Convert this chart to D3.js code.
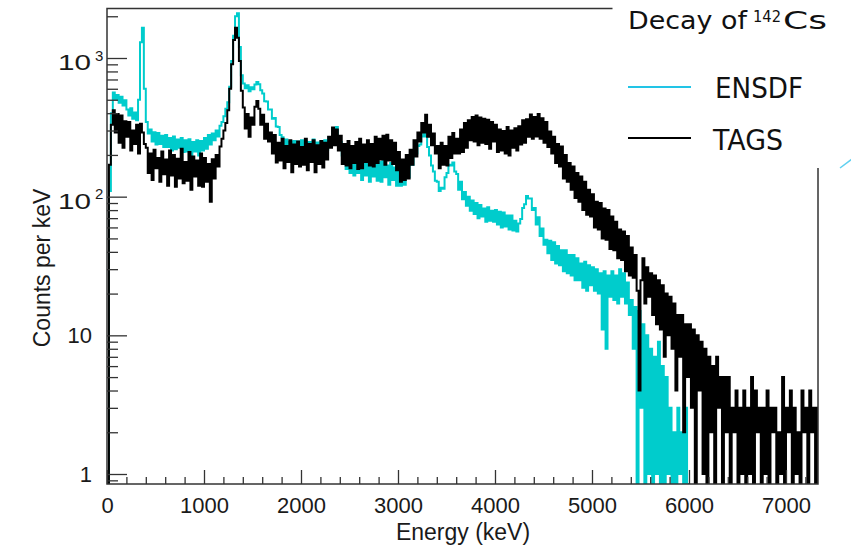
<!DOCTYPE html>
<html>
<head>
<meta charset="utf-8">
<title>Decay of 142Cs</title>
<style>
	body { margin: 0; background: #fff; }
	svg text { font-family: "Liberation Sans", Arial, Helvetica, sans-serif; fill: #1a1a1a; }
	.axis path.domain { display: none; }
	.axis line { stroke: #333; stroke-width: 1.3; }
	.legend text { font-family: "DejaVu Sans", Verdana, sans-serif; fill: #111; }
</style>
</head>
<body>
<div class="spectrum"></div>
<script src="https://d3js.org/d3.v7.min.js"></script>
<script>
// counts per keV, 20 keV bins starting at 0 keV
var binWidth = 20;

var ensdf = [
	0, 110, 400, 565, 505, 540, 475, 525, 455, 495,
	425, 385, 435, 365, 405, 355, 500, 1300, 1650, 600,
	345, 285, 305, 250, 292, 238, 288, 240, 275, 228,
	278, 228, 265, 215, 272, 220, 258, 225, 265, 210,
	255, 212, 260, 200, 248, 212, 255, 198, 252, 215,
	265, 222, 278, 238, 285, 255, 300, 272, 325, 345,
	380, 430, 480, 620, 950, 1450, 2000, 2100, 1200, 750,
	655, 605, 635, 575, 615, 595, 645, 670, 648, 585,
	555, 488, 485, 425, 425, 365, 370, 320, 318, 278,
	268, 212, 258, 208, 248, 198, 252, 210, 250, 200,
	255, 202, 250, 196, 248, 206, 258, 195, 246, 208,
	250, 202, 255, 218, 268, 258, 305, 262, 318, 242,
	248, 198, 212, 158, 198, 148, 188, 142, 178, 148,
	182, 132, 188, 142, 172, 128, 182, 140, 185, 130,
	178, 128, 182, 138, 168, 122, 175, 132, 162, 120,
	152, 120, 150, 122, 148, 138, 172, 170, 202, 205,
	232, 238, 272, 285, 272, 228, 198, 168, 152, 130,
	128, 110, 116, 114, 138, 148, 170, 168, 176, 152,
	146, 112, 128, 96, 108, 86, 100, 79, 94, 75,
	90, 70, 87, 72, 82, 66, 84, 67, 79, 66,
	80, 63, 78, 60, 77, 61, 73, 58, 73, 57,
	67, 56, 64, 69, 83, 88, 101, 97, 97, 80,
	83, 63, 71, 52, 59, 45, 49, 39, 48, 35,
	47, 33, 44, 32, 41, 29, 41, 28, 38, 27,
	38, 25, 36, 25, 33, 22, 34, 21, 32, 23,
	31, 21, 30, 20, 28, 11, 29, 8, 27, 19,
	29, 18, 27, 17, 30, 19, 28, 17, 24, 14,
	18, 8, 16, 0, 15, 3, 12, 0, 10, 1,
	8, 0, 7, 1, 9, 0, 6, 0, 5, 1,
	3, 0, 2, 0, 3, 1, 2, 0, 3, 0
];

var tags = [
	0, 170, 330, 420, 290, 395, 245, 385, 225, 350,
	270, 345, 215, 300, 240, 330, 205, 335, 290, 240,
	225, 148, 205, 132, 218, 160, 190, 128, 212, 145,
	185, 120, 215, 142, 200, 118, 188, 135, 222, 125,
	178, 130, 210, 112, 195, 140, 182, 120, 205, 118,
	190, 128, 172, 92, 186, 135, 200, 165, 230, 262,
	300, 340, 420, 600, 900, 1350, 1650, 1400, 950, 580,
	440, 310, 395, 270, 372, 330, 445, 490, 430, 330,
	390, 262, 335, 250, 290, 205, 278, 176, 245, 182,
	262, 160, 232, 178, 255, 150, 238, 172, 250, 165,
	228, 170, 262, 155, 240, 178, 255, 150, 235, 172,
	252, 162, 245, 185, 270, 225, 315, 235, 305, 215,
	275, 172, 240, 168, 252, 160, 232, 175, 248, 158,
	262, 160, 238, 178, 255, 168, 240, 165, 270, 175,
	262, 185, 275, 170, 280, 182, 255, 172, 245, 155,
	210, 128, 185, 132, 200, 135, 218, 170, 255, 195,
	290, 250, 340, 290, 390, 270, 330, 235, 285, 205,
	232, 160, 245, 170, 232, 168, 270, 190, 288, 205,
	262, 205, 305, 210, 340, 225, 355, 255, 375, 250,
	385, 235, 372, 245, 365, 240, 358, 222, 345, 250,
	330, 210, 305, 215, 298, 205, 318, 198, 300, 225,
	312, 215, 322, 238, 355, 245, 362, 270, 392, 262,
	375, 272, 395, 262, 368, 245, 345, 228, 295, 205,
	270, 175, 240, 165, 230, 135, 200, 128, 175, 112,
	165, 98, 148, 92, 140, 80, 128, 74, 112, 72,
	104, 60, 92, 58, 90, 50, 82, 49, 80, 42,
	72, 41, 66, 36, 58, 35, 56, 29, 52, 27,
	43, 26, 38, 21, 4, 25, 36, 17, 31, 19,
	28, 14, 27, 12, 25, 11, 23, 7, 20, 10,
	19, 8, 17, 4, 14, 7, 14, 2, 12, 5,
	12, 3, 11, 0, 10, 4, 9, 1, 8, 0,
	7, 2, 6, 0, 7, 3, 5, 0, 5, 2,
	5, 0, 3, 2, 4, 0, 3, 1, 4, 0,
	3, 1, 5, 0, 4, 2, 3, 0, 3, 1,
	4, 0, 3, 2, 3, 0, 2, 1, 5, 0,
	3, 2, 4, 0, 3, 1, 2, 0, 4, 2,
	3, 0, 4, 2, 3, 0, 3
];

var xMajor = [0, 1000, 2000, 3000, 4000, 5000, 6000, 7000];
var xMinor = [200, 400, 600, 800, 1200, 1400, 1600, 1800, 2200, 2400, 2600, 2800,
	3200, 3400, 3600, 3800, 4200, 4400, 4600, 4800, 5200, 5400, 5600, 5800,
	6200, 6400, 6600, 6800, 7200];
var yMajor = [1, 10, 100, 1000];
var yBase = ["1", "10", "10", "10"];
var yExp = ["", "", "2", "3"];
var yMinor = [0.9, 2, 3, 4, 5, 6, 7, 8, 9, 20, 30, 40, 50, 60, 70, 80, 90,
	200, 300, 400, 500, 600, 700, 800, 900, 2000];

var w = 851, h = 552;
var pLeft = 107, pRight = 818, pTop = 8.5, pBottom = 484;

var svg = d3.select("div.spectrum").append("svg")
	.attr("width", w)
	.attr("height", h);

var x = d3.scaleLinear().domain([0, 7330]).range([pLeft, pRight]);
var y = d3.scaleLog().domain([0.847, 2275]).range([pBottom, pTop]).clamp(true);

svg.append("clipPath").attr("id", "plot")
	.append("rect")
	.attr("x", pLeft).attr("y", pTop)
	.attr("width", pRight - pLeft).attr("height", pBottom - pTop);

function histPath(values){
	var pts = [[0, 0]];
	values.forEach(function(v, i){
		pts.push([i * binWidth, v]);
		pts.push([(i + 1) * binWidth, v]);
	});
	pts.push([values.length * binWidth, 0]);
	return d3.line()
		.x(function(p){ return x(p[0]); })
		.y(function(p){ return y(Math.max(p[1], 0.1)); })(pts);
}

var plot = svg.append("g").attr("clip-path", "url(#plot)");

plot.append("path")
	.attr("d", histPath(ensdf))
	.attr("fill", "none")
	.attr("stroke", "#00cccc")
	.attr("stroke-width", 2);

plot.append("path")
	.attr("d", histPath(tags))
	.attr("fill", "none")
	.attr("stroke", "#000")
	.attr("stroke-width", 2);

// frame
svg.append("rect")
	.attr("x", pLeft).attr("y", pTop)
	.attr("width", pRight - pLeft).attr("height", pBottom - pTop)
	.attr("fill", "none")
	.attr("stroke", "#333")
	.attr("stroke-width", 1.5);

// x axis
var gx = svg.append("g").attr("class", "axis x-axis")
	.attr("transform", "translate(0," + pBottom + ")")
	.call(d3.axisBottom(x).tickValues(xMajor).tickSize(-14).tickSizeOuter(0)
		.tickPadding(13).tickFormat(d3.format("d")));
gx.attr("font-size", 22).attr("font-family", null);

svg.append("g").attr("class", "axis")
	.attr("transform", "translate(0," + pBottom + ")")
	.call(d3.axisBottom(x).tickValues(xMinor).tickSize(-7).tickSizeOuter(0).tickFormat(""));

// y axis
var gy = svg.append("g").attr("class", "axis y-axis")
	.attr("transform", "translate(" + pLeft + ",0)")
	.call(d3.axisLeft(y).tickValues(yMajor).tickSize(-20).tickSizeOuter(0)
		.tickPadding(15).tickFormat(function(d, i){ return yBase[i]; }));
gy.attr("font-size", 22).attr("font-family", null);

// powers of ten: wider "10" plus a superscript exponent
gy.selectAll("g.tick").each(function(d, i){
	if (!yExp[i]) return;
	var t = d3.select(this);
	t.select("text")
		.attr("x", -49)
		.attr("dy", "0.52em")
		.attr("text-anchor", "start")
		.attr("textLength", 33)
		.attr("lengthAdjust", "spacingAndGlyphs");
	t.append("text")
		.attr("x", -12)
		.attr("y", 2)
		.attr("text-anchor", "start")
		.attr("font-size", 15)
		.text(yExp[i]);
});

svg.append("g").attr("class", "axis")
	.attr("transform", "translate(" + pLeft + ",0)")
	.call(d3.axisLeft(y).tickValues(yMinor).tickSize(-11).tickSizeOuter(0).tickFormat(""));

// axis titles
svg.append("text")
	.attr("transform", "translate(50,268) rotate(-90)")
	.attr("text-anchor", "middle")
	.attr("font-size", 23)
	.text("Counts per keV");

svg.append("text")
	.attr("x", 463).attr("y", 540)
	.attr("text-anchor", "middle")
	.attr("font-size", 23)
	.text("Energy (keV)");

// legend box (covers the frame corner)
var legend = svg.append("g").attr("class", "legend");

legend.append("rect")
	.attr("x", 612.5).attr("y", -1)
	.attr("width", 240).attr("height", 169)
	.attr("fill", "#fff");

legend.append("text").attr("x", 628).attr("y", 29).attr("font-size", 25)
	.attr("textLength", 119).attr("lengthAdjust", "spacingAndGlyphs")
	.text("Decay of");
legend.append("text").attr("x", 753).attr("y", 22).attr("font-size", 15)
	.attr("textLength", 28).attr("lengthAdjust", "spacingAndGlyphs")
	.text("142");
legend.append("text").attr("x", 783).attr("y", 29).attr("font-size", 25)
	.attr("textLength", 44).attr("lengthAdjust", "spacingAndGlyphs")
	.text("Cs");

legend.append("line")
	.attr("x1", 628).attr("x2", 691).attr("y1", 87).attr("y2", 87)
	.attr("stroke", "#22c4e6").attr("stroke-width", 2);
legend.append("text").attr("x", 715).attr("y", 98).attr("font-size", 28)
	.attr("textLength", 88).attr("lengthAdjust", "spacingAndGlyphs")
	.text("ENSDF");

legend.append("line")
	.attr("x1", 628).attr("x2", 691).attr("y1", 138).attr("y2", 138)
	.attr("stroke", "#000").attr("stroke-width", 2);
legend.append("text").attr("x", 713).attr("y", 150).attr("font-size", 28)
	.attr("textLength", 70).attr("lengthAdjust", "spacingAndGlyphs")
	.text("TAGS");

// stray slide line at the right edge
svg.append("line")
	.attr("x1", 840).attr("y1", 168).attr("x2", 852).attr("y2", 159)
	.attr("stroke", "#5fd0f0").attr("stroke-width", 1.5);
</script>
</body>
</html>
